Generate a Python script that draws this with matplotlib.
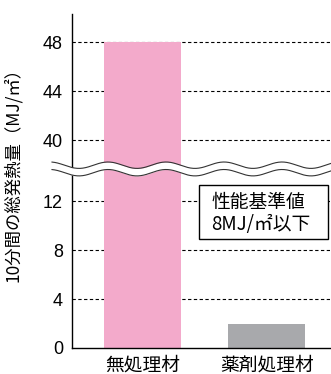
import numpy as np
import matplotlib
matplotlib.use("Agg")
import matplotlib.pyplot as plt
from matplotlib.patches import Rectangle

plt.rcParams['font.family'] = ['Noto Sans CJK JP', 'DejaVu Sans']

# data
categories = ["無処理材", "薬剤処理材"]
values = [48, 2]
colors = ["#F3AACB", "#A8A9AC"]
yticks = [0, 4, 8, 12, 40, 44, 48]
ylabel = "10分間の総発熱量（MJ/㎡）"
note = ["性能基準値", "8MJ/㎡以下"]

# broken axis: 14..38 squeezed into 1 unit
brk_x = [0, 14, 38, 200]
brk_y = [0, 14, 15, 177]

def fwd(v):
    return np.interp(v, brk_x, brk_y)

def inv(v):
    return np.interp(v, brk_y, brk_x)

W, H = 331, 374
fig = plt.figure(figsize=(W / 100, H / 100), dpi=100)
ax = fig.add_axes([72 / W, 1 - 348 / H, 258 / W, 334 / H])
ax.set_yscale('function', functions=(fwd, inv))

x = np.arange(len(categories))
ax.bar(x, values, width=0.62, color=colors, zorder=2)

for t in yticks[1:]:
    ax.axhline(t, color="black", lw=0.8, ls=(0, (3, 2.2)), zorder=1)

ax.set_xlim(-0.57, 1.51)
ax.set_ylim(0, 50.3)
ax.set_yticks(yticks)
ax.set_yticklabels([str(t) for t in yticks], fontsize=13, family="Liberation Sans")
ax.set_xticks(x)
ax.set_xticklabels(categories, fontsize=13.5)
ax.tick_params(axis="both", length=0)
ax.tick_params(axis="y", pad=6.5)
ax.tick_params(axis="x", pad=4.5)
for s in ["top", "right"]:
    ax.spines[s].set_visible(False)
for s in ["left", "bottom"]:
    ax.spines[s].set_linewidth(1.0)

ax.set_ylabel(ylabel, fontsize=12.5)
ax.yaxis.set_label_coords(-0.192, 0.533)

# wavy break band (pixel coords -> figure fraction)
px = np.linspace(52, W, 400)
yc, amp, per = 168.8, 3.2, 58
up = yc - 3.6 - amp * np.cos(2 * np.pi * (px - 108) / per)
lo = up + 7.5
fx = px / W
ax.fill_between(fx, 1 - up / H, 1 - lo / H, color="white", lw=0,
                transform=fig.transFigure, clip_on=False, zorder=5)
ax.plot(fx, 1 - up / H, color="#333333", lw=0.8, transform=fig.transFigure,
        clip_on=False, zorder=6)
ax.plot(fx, 1 - lo / H, color="#333333", lw=0.8, transform=fig.transFigure,
        clip_on=False, zorder=6)

# note box
box = Rectangle((199 / W, 1 - 239 / H), 129 / W, 54 / H, transform=fig.transFigure,
                facecolor="white", edgecolor="black", lw=1.0, zorder=7)
fig.add_artist(box)
fig.text(211 / W, 1 - 203 / H, note[0], fontsize=13.5, va="center", ha="left", zorder=8)
fig.text(211 / W, 1 - 224.5 / H, note[1], fontsize=13.5, va="center", ha="left", zorder=8)

fig.savefig("out.png", dpi=100)
